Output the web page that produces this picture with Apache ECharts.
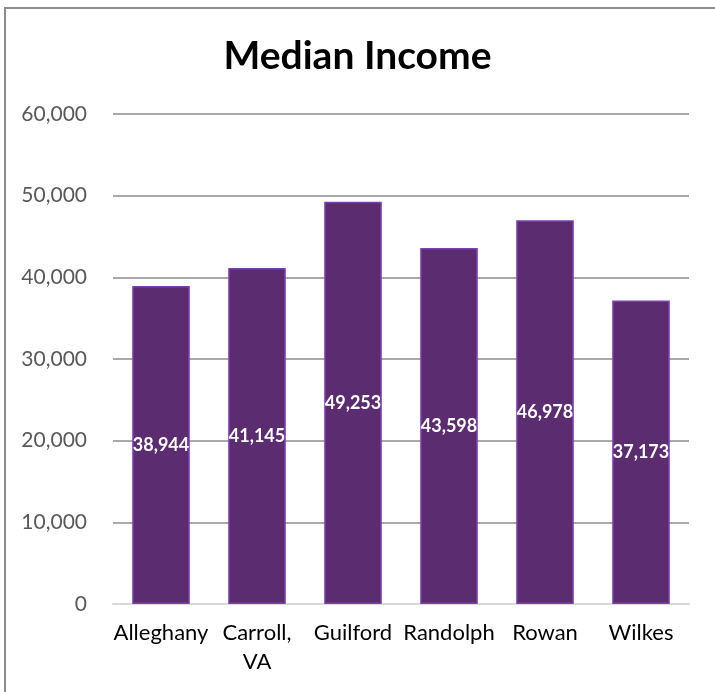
<!DOCTYPE html>
<html>
<head>
<meta charset="utf-8">
<script src="https://cdn.jsdelivr.net/npm/echarts@6/dist/echarts.min.js"></script>
<style>
  html, body { margin: 0; padding: 0; background: #fff; }
  #chart { width: 715px; height: 692px; }
</style>
</head>
<body>
<div id="chart"></div>
<script>
// County names and median household income values
const counties = ['Alleghany', 'Carroll, VA', 'Guilford', 'Randolph', 'Rowan', 'Wilkes'];
const medianIncome = [38944, 41145, 49253, 43598, 46978, 37173];
const yTicks = [0, 10000, 20000, 30000, 40000, 50000, 60000];

const fmt = v => v.toLocaleString('en-US');
const font = 'Lato, "Open Sans", sans-serif';

const chart = echarts.init(document.getElementById('chart'));
chart.setOption({
  animation: false,
  textStyle: { fontFamily: font },
  title: {
    text: 'Median Income',
    left: 'center',
    top: 32,
    textStyle: { fontSize: 39, fontWeight: 'bold', color: '#000', fontFamily: font }
  },
  graphic: [{
    type: 'rect',
    shape: { x: 5, y: 8, width: 730, height: 700 },
    style: { fill: 'none', stroke: '#8c8c8c', lineWidth: 2 },
    silent: true
  }],
  grid: { left: 113, right: 26, top: 114, bottom: 88 },
  xAxis: {
    type: 'category',
    data: counties,
    axisLine: { lineStyle: { color: '#d9d9d9', width: 2 } },
    axisTick: { show: false },
    axisLabel: {
      color: '#000',
      fontSize: 22,
      lineHeight: 29,
      margin: 14,
      interval: 0,
      formatter: v => v.replace(', ', ',\n')
    }
  },
  yAxis: {
    type: 'value',
    min: yTicks[0],
    max: yTicks[yTicks.length - 1],
    interval: yTicks[1] - yTicks[0],
    axisLine: { show: false },
    axisTick: { show: false },
    splitLine: { lineStyle: { color: '#8c8c8c', width: 1.5 } },
    axisLabel: { color: '#595959', fontSize: 21, margin: 26, formatter: v => fmt(v) }
  },
  series: [{
    type: 'bar',
    data: medianIncome,
    barCategoryGap: '40%',
    itemStyle: { color: '#5b2c6f', borderColor: '#7e3fb3', borderWidth: 1.5 },
    label: {
      show: true,
      position: 'inside',
      color: '#fff',
      fontWeight: 'bold',
      fontSize: 18,
      formatter: p => fmt(p.value)
    }
  }]
});
</script>
</body>
</html>
